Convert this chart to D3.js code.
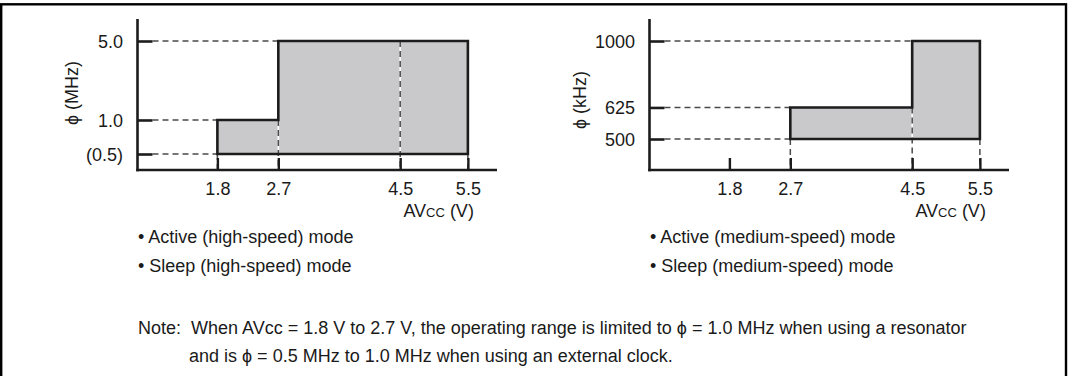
<!DOCTYPE html>
<html>
<head>
<meta charset="utf-8">
<script src="https://cdn.jsdelivr.net/npm/d3@7/dist/d3.min.js"></script>
<style>
  html, body { margin: 0; padding: 0; background: #fff; }
  svg { display: block; }
  text { font-family: "Liberation Sans", Arial, Helvetica, sans-serif; fill: #1a1a1a; white-space: pre; }
</style>
</head>
<body>
<svg id="chart" width="1069" height="376"></svg>
<script>
// ---- data ----
const voltTicks = [1.8, 2.7, 4.5, 5.5];
const voltTickLabels = ["1.8", "2.7", "4.5", "5.5"];

const highFreqTicks = [0.5, 1.0, 5.0];
const highFreqLabels = ["(0.5)", "1.0", "5.0"];
const highVoltEdges = [1.8, 2.7, 5.5];
const highFreqMax = [1.0, 5.0];
const highFreqMin = 0.5;

const medFreqTicks = [500, 625, 1000];
const medFreqLabels = ["500", "625", "1000"];
const medVoltEdges = [2.7, 4.5, 5.5];
const medFreqMax = [625, 1000];
const medFreqMin = 500;

const highTitle = "\u03D5 (MHz)";
const medTitle = "\u03D5 (kHz)";
const highModes = ["\u2022 Active (high-speed) mode", "\u2022 Sleep (high-speed) mode"];
const medModes = ["\u2022 Active (medium-speed) mode", "\u2022 Sleep (medium-speed) mode"];
const noteLines = [
  "Note:  When AVcc = 1.8 V to 2.7 V, the operating range is limited to \u03D5 = 1.0 MHz when using a resonator",
  "and is \u03D5 = 0.5 MHz to 1.0 MHz when using an external clock."
];

// ---- layout ----
const svg = d3.select("#chart");
const FONT = 18;
const INK = "#1c1c1c";

// frame
svg.append("rect")
  .attr("x", 1.2).attr("y", 4.3).attr("width", 1064.8).attr("height", 420)
  .attr("fill", "none").attr("stroke", "#000").attr("stroke-width", 2.4);

function drawPanel(opt) {
  const ax0 = opt.left;          // y-axis x position
  const axY = 170;               // x-axis y position
  const axTop = 19;
  const x = d3.scaleLinear().domain([0.62, 5.93]).range([ax0, ax0 + 359.5]);
  const y = d3.scaleLog().domain(opt.yDomain).range(opt.yRange);
  const g = svg.append("g");

  const edges = opt.edges, maxes = opt.maxes, fmin = opt.fmin;

  // region polygon
  const pts = [[edges[0], fmin]];
  maxes.forEach((m, i) => { pts.push([edges[i], m]); pts.push([edges[i + 1], m]); });
  pts.push([edges[edges.length - 1], fmin]);
  g.append("path")
    .attr("d", d3.line().x(d => x(d[0])).y(d => y(d[1]))(pts) + "Z")
    .attr("fill", "#c9c9cb").attr("stroke", "none");

  // guides (dashed)
  const guides = [];
  opt.yTicks.forEach(f => {
    let i = maxes.findIndex(m => m >= f);
    guides.push([x.range()[0] + 15, y(f), x(edges[i]), y(f)]);
  });
  voltTicks.forEach(v => {
    if (v < edges[0] || v > edges[edges.length - 1]) return;
    let top;
    const ei = edges.indexOf(v);
    if (ei === 0 || ei === edges.length - 1) top = fmin;
    else if (ei > 0) top = Math.min(maxes[ei - 1], maxes[ei]);
    else {
      const si = edges.findIndex((e, k) => k < edges.length - 1 && v > e && v < edges[k + 1]);
      top = maxes[si];
    }
    guides.push([x(v), y(top), x(v), axY]);
  });
  guides.forEach(s => {
    g.append("line").attr("x1", s[0]).attr("y1", s[1]).attr("x2", s[2]).attr("y2", s[3])
      .attr("stroke", "#fff").attr("stroke-width", 1.6);
    g.append("line").attr("x1", s[0]).attr("y1", s[1]).attr("x2", s[2]).attr("y2", s[3])
      .attr("stroke", "#4a4a4a").attr("stroke-width", 1.5).attr("stroke-dasharray", "6,4");
  });

  // region outline
  g.append("path")
    .attr("d", d3.line().x(d => x(d[0])).y(d => y(d[1]))(pts) + "Z")
    .attr("fill", "none").attr("stroke", INK).attr("stroke-width", 2.6)
    .attr("stroke-linejoin", "miter");

  // x axis
  const xAxis = d3.axisBottom(x).tickValues(voltTicks).tickSize(0).tickFormat((d, i) => voltTickLabels[i]);
  const xg = g.append("g").attr("transform", `translate(0,${axY})`).call(xAxis);
  xg.select(".domain").remove();
  xg.selectAll("text").remove();
  g.append("line").attr("x1", ax0 - 1.3).attr("x2", x.range()[1]).attr("y1", axY).attr("y2", axY)
    .attr("stroke", INK).attr("stroke-width", 2.6);
  xg.selectAll(".tick").append("line").attr("y1", 0).attr("y2", -12)
    .attr("stroke", INK).attr("stroke-width", 2.4);
  xg.selectAll(".tick").append("text").attr("y", 25).attr("text-anchor", "middle")
    .style("font-size", FONT + "px").text((d, i) => voltTickLabels[i]);

  // y axis
  g.append("line").attr("x1", ax0).attr("x2", ax0).attr("y1", axTop).attr("y2", axY + 1.3)
    .attr("stroke", INK).attr("stroke-width", 2.6);
  const yAxis = d3.axisRight(y).tickValues(opt.yTicks).tickSize(0).tickFormat(() => "");
  const yg = g.append("g").attr("transform", `translate(${ax0},0)`).call(yAxis);
  yg.select(".domain").remove();
  yg.selectAll("text").remove();
  yg.selectAll(".tick").append("line").attr("x1", 0).attr("x2", 15)
    .attr("stroke", INK).attr("stroke-width", 2.6);
  yg.selectAll(".tick").append("text").attr("x", -14.5).attr("dy", "0.35em")
    .attr("text-anchor", "end").style("font-size", FONT + "px")
    .text((d, i) => opt.yLabels[i]);

  // y title
  g.append("text").attr("transform", `translate(${opt.titleX},${opt.titleY}) rotate(-90)`)
    .attr("text-anchor", "middle").attr("dy", "0.35em").style("font-size", FONT + "px")
    .text(opt.title);

  // x title
  const xt = g.append("text").attr("x", x(5.5) + 6).attr("y", 217).attr("text-anchor", "end")
    .style("font-size", FONT + "px");
  xt.append("tspan").text("AV");
  xt.append("tspan").style("font-size", "13px").text("CC");
  xt.append("tspan").text(" (V)");

  // mode labels
  opt.modes.forEach((m, i) => {
    g.append("text").attr("x", ax0 + 0.5).attr("y", 243 + i * 29)
      .style("font-size", FONT + "px").text(m);
  });
}

drawPanel({
  left: 137.5, yDomain: [0.5, 5], yRange: [154, 41],
  edges: highVoltEdges, maxes: highFreqMax, fmin: highFreqMin,
  yTicks: highFreqTicks, yLabels: highFreqLabels,
  title: highTitle, titleX: 72, titleY: 93, modes: highModes
});
drawPanel({
  left: 649.5, yDomain: [500, 1000], yRange: [139, 41],
  edges: medVoltEdges, maxes: medFreqMax, fmin: medFreqMin,
  yTicks: medFreqTicks, yLabels: medFreqLabels,
  title: medTitle, titleX: 580, titleY: 100, modes: medModes
});

// note
svg.append("text").attr("x", 138).attr("y", 334).style("font-size", FONT + "px").text(noteLines[0]);
svg.append("text").attr("x", 189).attr("y", 362).style("font-size", FONT + "px").text(noteLines[1]);
</script>
</body>
</html>
